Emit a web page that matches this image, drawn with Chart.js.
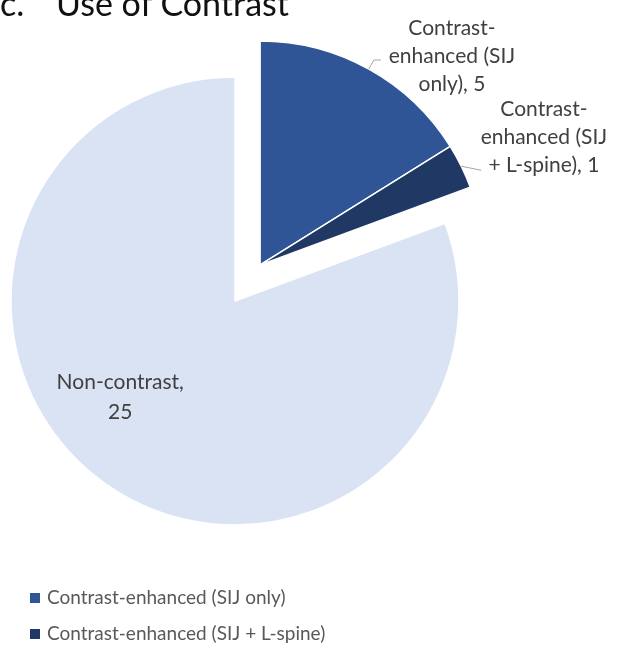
<!DOCTYPE html>
<html>
<head>
<meta charset="utf-8">
<script src="https://cdn.jsdelivr.net/npm/chart.js@4"></script>
<style>
    html, body { margin: 0; padding: 0; background: #fff; overflow: hidden; }
    #wrap { position: relative; width: 618px; height: 646px; }
    .title { position: absolute; top: -14px; font-family: Lato, sans-serif; font-size: 34px; line-height: 34px; color: #111; white-space: pre; }
    #legend { position: absolute; left: 30px; top: 584px; font-family: Lato, sans-serif; font-size: 19px; color: #595959; }
    #legend div { height: 36px; line-height: 26px; }
    #legend span.box { display: inline-block; width: 10px; height: 10px; margin-right: 7px; vertical-align: 1px; }
</style>
</head>
<body>
<div id="wrap">
    <canvas id="pie" width="618" height="646"></canvas>
    <div class="title" style="left:0">c.</div>
    <div class="title" style="left:56px">Use of Contrast</div>
    <div id="legend"></div>
</div>
<script>
const labels = ['Contrast-enhanced (SIJ only)', 'Contrast-enhanced (SIJ + L-spine)', 'Non-contrast'];
const dataLabels = [
    ['Contrast-', 'enhanced (SIJ', 'only), 5'],
    ['Contrast-', 'enhanced (SIJ', '+ L-spine), 1'],
    ['Non-contrast,', '25']
];
const counts = [5, 1, 25];
const colors = ['#2F5597', '#203864', '#DAE3F3'];
const legendItems = [0, 1];   // the third legend entry is cut off in the reference

// the two contrast slices are pulled out together
const explodeCount = 2;
const explodeShift = 44;

function shiftFor(meta) {
    const first = meta.data[0], last = meta.data[explodeCount - 1];
    const mid = (first.startAngle + last.endAngle) / 2;
    return { dx: Math.cos(mid) * explodeShift, dy: Math.sin(mid) * explodeShift };
}

const explodePlugin = {
    id: 'explode',
    beforeDatasetDraw(chart, args) {
        const ctx = chart.ctx;
        const meta = args.meta;
        const s = shiftFor(meta);
        meta.data.forEach(function (arc, i) {
            ctx.save();
            if (i < explodeCount) ctx.translate(s.dx, s.dy);
            arc.draw(ctx, chart.chartArea);
            ctx.restore();
        });
        return false;
    }
};

// label placement: angle clockwise from 12 o'clock (deg) and distance as a fraction of radius
const labelPlace = [
    { angle: 42.6, dist: 1.265, lineH: 28, leader: [[0, 0], [5, -9], [12, -9]] },
    { angle: 65.7, dist: 1.39, lineH: 28, leader: [[0, 0], [20, 4]] },
    { angle: 230.1, dist: 0.668, lineH: 30, leader: null }
];

const labelPlugin = {
    id: 'sliceLabels',
    afterDatasetsDraw(chart) {
        const ctx = chart.ctx;
        const meta = chart.getDatasetMeta(0);
        const s = shiftFor(meta);
        ctx.save();
        ctx.font = '21px Lato, sans-serif';
        ctx.fillStyle = '#404040';
        ctx.textAlign = 'center';
        ctx.textBaseline = 'middle';
        meta.data.forEach(function (arc, i) {
            const p = labelPlace[i];
            let cx = arc.x, cy = arc.y;
            if (i < explodeCount) { cx += s.dx; cy += s.dy; }
            const r = arc.outerRadius;
            const a = (p.angle - 90) * Math.PI / 180;
            const lx = cx + Math.cos(a) * r * p.dist;
            const ly = cy + Math.sin(a) * r * p.dist;
            const lines = dataLabels[i];
            lines.forEach(function (t, k) {
                ctx.fillText(t, lx, ly + (k - (lines.length - 1) / 2) * p.lineH);
            });
            if (p.leader) {
                const mid = (arc.startAngle + arc.endAngle) / 2;
                const sx = cx + Math.cos(mid) * r;
                const sy = cy + Math.sin(mid) * r;
                ctx.strokeStyle = '#a6a6a6';
                ctx.lineWidth = 1;
                ctx.beginPath();
                p.leader.forEach(function (q, k) {
                    if (k === 0) ctx.moveTo(sx + q[0], sy + q[1]);
                    else ctx.lineTo(sx + q[0], sy + q[1]);
                });
                ctx.stroke();
            }
        });
        ctx.restore();
    }
};

document.addEventListener('DOMContentLoaded', function () {
    const legend = document.getElementById('legend');
    legendItems.forEach(function (i) {
        const row = document.createElement('div');
        const box = document.createElement('span');
        box.className = 'box';
        box.style.background = colors[i];
        row.appendChild(box);
        row.appendChild(document.createTextNode(labels[i]));
        legend.appendChild(row);
    });

    const ctx = document.getElementById('pie').getContext('2d');
    new Chart(ctx, {
        type: 'pie',
        data: {
            labels: labels,
            datasets: [{
                data: counts,
                backgroundColor: colors,
                borderColor: '#ffffff',
                borderWidth: 1.5,
                radius: 224
            }]
        },
        options: {
            responsive: false,
            animation: false,
            layout: {
                padding: { left: 0, right: 148, top: 41, bottom: 85 }
            },
            plugins: {
                legend: { display: false },
                tooltip: { enabled: false },
                title: { display: false }
            }
        },
        plugins: [explodePlugin, labelPlugin]
    });
});
</script>
</body>
</html>
